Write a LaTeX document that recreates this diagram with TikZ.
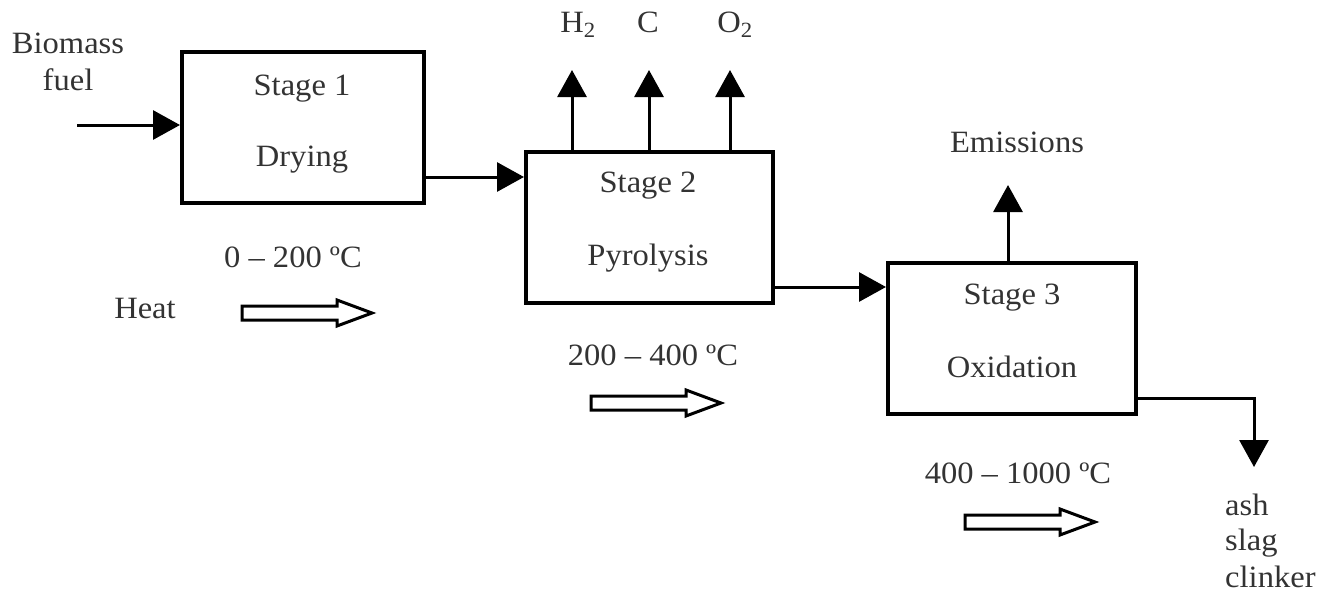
\documentclass[tikz,border=0pt]{standalone}
\usepackage{fontspec}
\setmainfont[FakeStretch=1.05]{Liberation Serif}
\usetikzlibrary{arrows.meta}
\tikzset{
  stagebox/.style={draw=black, line width=4pt, minimum width=#1, minimum height=151pt, inner sep=0pt},
  txt/.style={anchor=base, inner sep=0pt, text=black!80, font=\fontsize{31}{36}\selectfont},
  ltxt/.style={txt, anchor=base west},
  flow/.style={line width=3pt, -{Triangle[length=27pt,width=29pt]}},
  hollow/.pic={\draw[line width=3pt, line join=miter, fill=white] (0,-7) -- (95,-7) -- (95,-13) -- (130,0) -- (95,13) -- (95,7) -- (0,7) -- cycle;}
}
\begin{document}
\begin{tikzpicture}[x=1pt,y=-1pt]
\useasboundingbox (0,0) rectangle (1328,592);
% boxes
\node[stagebox=242pt] (b1) at (303,127.5) {};
\node[stagebox=247pt] (b2) at (649.5,227.5) {};
\node[stagebox=248pt] (b3) at (1012,338.5) {};
% box texts
\node[txt] (s1) at (302,95) {Stage 1};
\node[txt] (d1) at (302,166) {Drying};
\node[txt] (s2) at (648,192) {Stage 2};
\node[txt] (d2) at (648,265) {Pyrolysis};
\node[txt] (s3) at (1012,304) {Stage 3};
\node[txt] (d3) at (1012,377) {Oxidation};
% inputs / outputs labels
\node[txt] (bio) at (68,53) {Biomass};
\node[txt] (fuel) at (68,90) {fuel};
\node[txt] (h2) at (578,32) {H\textsubscript{2}};
\node[txt] (cc) at (648,32) {C};
\node[txt] (o2) at (735,32) {O\textsubscript{2}};
\node[txt] (em) at (1017,152) {Emissions};
\node[ltxt] (ash) at (1225,515) {ash};
\node[ltxt] (slag) at (1225,550) {slag};
\node[ltxt] (clk) at (1225,587) {clinker};
% temperatures
\node[txt] (t1) at (293,267) {0 – 200 ºC};
\node[txt] (heat) at (145,318) {Heat};
\node[txt] (t2) at (653,365) {200 – 400 ºC};
\node[txt] (t3) at (1018,483) {400 – 1000 ºC};
% coordinates
\coordinate (bin) at (77,125);
\coordinate (y12) at (0,177);
\coordinate (y23) at (0,287);
\coordinate (uph) at (572,70);
\coordinate (upc) at (649,70);
\coordinate (upo) at (730,70);
\coordinate (upe) at (1008,185);
\coordinate (ycorner) at (1254,398);
\coordinate (outend) at (1254,467);
% connectors
\draw[flow] (bin) -- (bin -| b1.west);
\draw[flow] (b1.east |- y12) -- (b2.west |- y12);
\draw[flow] (b2.east |- y23) -- (b3.west |- y23);
\draw[flow] (uph |- b2.north) -- (uph);
\draw[flow] (upc |- b2.north) -- (upc);
\draw[flow] (upo |- b2.north) -- (upo);
\draw[flow] (upe |- b3.north) -- (upe);
\draw[flow] (b3.east |- ycorner) -- (ycorner) -- (outend);
% heat arrows
\pic at (242,313) {hollow};
\pic at (591,403) {hollow};
\pic at (965,522) {hollow};
\end{tikzpicture}
\end{document}
